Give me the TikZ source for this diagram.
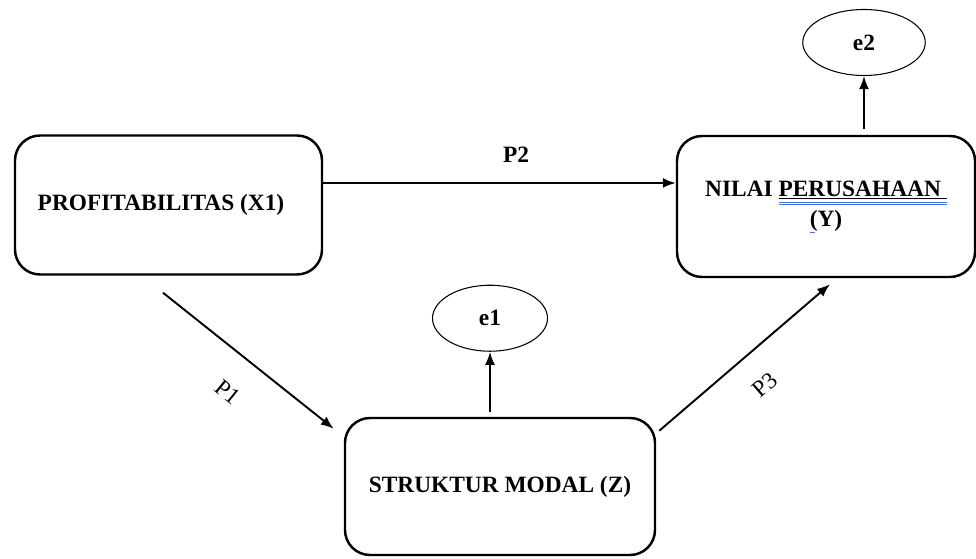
\documentclass[tikz,border=0pt]{standalone}
\usepackage{fontspec}
\setmainfont{Liberation Serif}
\usepackage{tikz}
\usetikzlibrary{positioning}
\usetikzlibrary{shapes.geometric}
\usetikzlibrary{arrows.meta}
\definecolor{spellblue}{RGB}{70,110,220}
\newlength\markwd
% blue double line of the spell checker
\newcommand\spellmark[1]{\settowidth\markwd{#1}\rlap{\underline{#1}}{\color{spellblue}\rlap{\rule[-3.6pt]{\markwd}{0.45pt}}\rule[-4.8pt]{\markwd}{0.45pt}}}
\tikzset{
	varbox/.style={draw,line width=1.4pt,rounded corners=0.5cm,minimum width=6.14cm,minimum height=2.78cm,align=center,font=\fontsize{13.3}{17}\selectfont\bfseries},
	errnode/.style={draw,line width=0.6pt,shape=ellipse,minimum width=2.3cm,minimum height=1.32cm,font=\fontsize{13.3}{15}\selectfont\bfseries},
	arr/.style={line width=1.1pt,-{Latex[length=2.6mm,width=2mm]}},
	plabel/.style={font=\fontsize{13.3}{15}\selectfont}
}

\begin{document}
\begin{tikzpicture}[scale=1]
	\useasboundingbox (0,0) rectangle (19.52,11.18);
	%% variabel
	\node[varbox] (profit) at (3.37,7.08) {PROFITABILITAS (X1)\hspace{0.3cm}};
	\node[varbox,minimum width=5.96cm,minimum height=2.82cm] (nilai) at (16.52,7.05) {NILAI \spellmark{PERUSAHAAN~}\\\rlap{\color{spellblue}\rule[-3.6pt]{3pt}{0.45pt}}(Y)};
	\node[varbox,minimum width=6.2cm,minimum height=2.74cm] (struktur) at (10,1.45) {STRUKTUR MODAL (Z)};
	%% error
	\node[errnode,above=1.3cm of struktur,xshift=-0.2cm] (e1) {e1};
	\node[errnode,minimum width=2.45cm] (e2) at (17.28,10.33) {e2};
	% panah antar variabel
	\draw[arr] ([yshift=0.44cm]profit.east) -- ([yshift=0.44cm]profit.east -| nilai.west);
	\draw[arr] ([shift={(-0.11,-0.34)}]profit.south) -- ([shift={(-0.2,-0.24)}]struktur.north west);
	\draw[arr] ([shift={(0.06,-0.28)}]struktur.north east) -- ([shift={(0.08,-0.12)}]nilai.south);
	\draw[arr] ([yshift=0.1cm]struktur.north -| e1.south) -- (e1.south);
	\draw[arr] ([yshift=0.12cm]nilai.north -| e2.south) -- (e2.south);
	%% label jalur
	\node[plabel,font=\fontsize{13.3}{15}\selectfont\bfseries] (p2) at (10.32,8.08) {P2};
	\node[plabel,rotate=-39] (p1) at (4.56,3.34) {P1};
	\node[plabel,rotate=41] (p3) at (15.3,3.48) {P3};
\end{tikzpicture}
\end{document}
